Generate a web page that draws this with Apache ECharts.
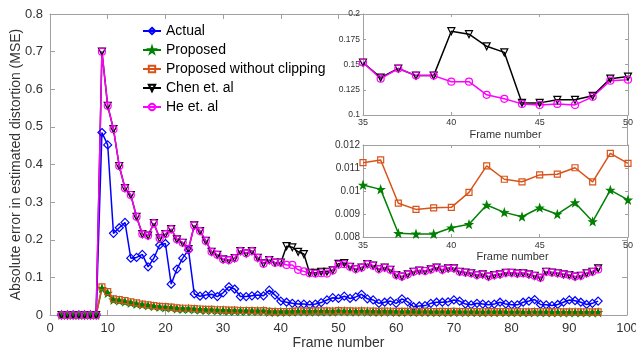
<!DOCTYPE html>
<html>
<head>
<meta charset="utf-8">
<script src="https://cdn.jsdelivr.net/npm/echarts@6/dist/echarts.min.js"></script>
<style>
    html, body { margin: 0; padding: 0; background: #fff; }
    #chart { width: 636px; height: 354px; }
</style>
</head>
<body>
<div id="chart"></div>
<script>
    // frame numbers of the main plot
    let frames = [2, 3, 4, 5, 6, 7, 8, 9, 10, 11, 12, 13, 14, 15, 16, 17, 18, 19, 20, 21,
        22, 23, 24, 25, 26, 27, 28, 29, 30, 31, 32, 33, 34, 35, 36, 37, 38, 39, 40, 41,
        42, 43, 44, 45, 46, 47, 48, 49, 50, 51, 52, 53, 54, 55, 56, 57, 58, 59, 60, 61,
        62, 63, 64, 65, 66, 67, 68, 69, 70, 71, 72, 73, 74, 75, 76, 77, 78, 79, 80, 81,
        82, 83, 84, 85, 86, 87, 88, 89, 90, 91, 92, 93, 94, 95];

    let actual = [0, 0, 0, 0, 0, 0, 0,
        0.485, 0.452, 0.217, 0.232, 0.246, 0.151, 0.153, 0.161, 0.128, 0.151, 0.186, 0.190, 0.082,
        0.122, 0.151, 0.173, 0.056, 0.050, 0.053, 0.055, 0.049, 0.059, 0.075, 0.069, 0.049, 0.049,
        0.051, 0.053, 0.051, 0.066, 0.053, 0.037, 0.034, 0.031, 0.029, 0.029, 0.027, 0.029, 0.033,
        0.040, 0.046, 0.044, 0.050, 0.044, 0.048, 0.055, 0.043, 0.040, 0.031, 0.034, 0.037, 0.031,
        0.043, 0.035, 0.022, 0.024, 0.025, 0.031, 0.034, 0.034, 0.035, 0.040, 0.037, 0.029, 0.027,
        0.031, 0.029, 0.027, 0.029, 0.034, 0.029, 0.027, 0.027, 0.034, 0.037, 0.041, 0.028, 0.027,
        0.025, 0.028, 0.034, 0.040, 0.038, 0.034, 0.028, 0.031, 0.037];

    let proposed = [0, 0, 0, 0, 0, 0, 0,
        0.071, 0.058, 0.040, 0.038, 0.035, 0.032, 0.029, 0.027, 0.025, 0.023, 0.021, 0.020, 0.019,
        0.017, 0.016, 0.016, 0.015, 0.014, 0.013, 0.013, 0.012, 0.012, 0.011, 0.011, 0.0105, 0.0104,
        0.0104, 0.0103, 0.0101, 0.0082, 0.0081, 0.0081, 0.0084, 0.0086, 0.0094, 0.0091, 0.0089, 0.0093,
        0.0090, 0.0095, 0.0087, 0.0100, 0.0096, 0.0092, 0.0089, 0.0094, 0.0090, 0.0086, 0.0083, 0.0088,
        0.0085, 0.0081, 0.0079, 0.0084, 0.0080, 0.0077, 0.0082, 0.0078, 0.0075, 0.0079, 0.0076, 0.0081,
        0.0077, 0.0074, 0.0078, 0.0075, 0.0072, 0.0076, 0.0073, 0.0077, 0.0074, 0.0071, 0.0075, 0.0072,
        0.0070, 0.0074, 0.0071, 0.0073, 0.0069, 0.0072, 0.0070, 0.0068, 0.0072, 0.0069, 0.0071, 0.0068,
        0.0070];

    let noClipping = [0, 0, 0, 0, 0, 0, 0,
        0.075, 0.062, 0.043, 0.041, 0.038, 0.035, 0.032, 0.029, 0.027, 0.025, 0.023, 0.022, 0.021,
        0.019, 0.018, 0.018, 0.017, 0.016, 0.015, 0.015, 0.014, 0.014, 0.013, 0.013, 0.012, 0.012,
        0.0118, 0.0112, 0.0114, 0.0095, 0.0092, 0.0093, 0.0093, 0.0099, 0.0111, 0.0105, 0.0104, 0.0107,
        0.0107, 0.0110, 0.0104, 0.0116, 0.0112, 0.0108, 0.0104, 0.0110, 0.0106, 0.0101, 0.0098, 0.0103,
        0.0100, 0.0096, 0.0094, 0.0099, 0.0095, 0.0092, 0.0097, 0.0093, 0.0090, 0.0094, 0.0091, 0.0096,
        0.0092, 0.0089, 0.0093, 0.0090, 0.0087, 0.0091, 0.0088, 0.0092, 0.0089, 0.0086, 0.0090, 0.0087,
        0.0085, 0.0089, 0.0086, 0.0088, 0.0084, 0.0087, 0.0085, 0.0083, 0.0087, 0.0084, 0.0086, 0.0083,
        0.0085];

    let chen = [0, 0, 0, 0, 0, 0, 0,
        0.700, 0.556, 0.494, 0.396, 0.337, 0.319, 0.261, 0.215, 0.211, 0.244, 0.204, 0.215, 0.228,
        0.201, 0.192, 0.175, 0.238, 0.223, 0.197, 0.168, 0.160, 0.148, 0.146, 0.151, 0.170, 0.164,
        0.170, 0.152, 0.137, 0.146, 0.139, 0.139, 0.183, 0.180, 0.168, 0.162, 0.112, 0.112, 0.115,
        0.115, 0.119, 0.136, 0.138, 0.128, 0.122, 0.126, 0.135, 0.131, 0.122, 0.126, 0.120, 0.106,
        0.102, 0.108, 0.115, 0.118, 0.117, 0.121, 0.126, 0.120, 0.124, 0.124, 0.115, 0.113, 0.111,
        0.106, 0.108, 0.102, 0.106, 0.108, 0.112, 0.112, 0.110, 0.111, 0.108, 0.104, 0.099, 0.115,
        0.113, 0.111, 0.108, 0.106, 0.102, 0.104, 0.111, 0.115, 0.124];

    let he = [0, 0, 0, 0, 0, 0, 0,
        0.700, 0.556, 0.494, 0.396, 0.337, 0.319, 0.261, 0.215, 0.211, 0.244, 0.204, 0.215, 0.228,
        0.201, 0.192, 0.175, 0.238, 0.223, 0.197, 0.168, 0.160, 0.148, 0.146, 0.151, 0.170, 0.164,
        0.170, 0.152, 0.136, 0.146, 0.139, 0.139, 0.133, 0.133, 0.120, 0.116, 0.111, 0.110, 0.111,
        0.110, 0.118, 0.134, 0.135, 0.128, 0.122, 0.126, 0.135, 0.131, 0.122, 0.126, 0.120, 0.106,
        0.102, 0.108, 0.115, 0.118, 0.117, 0.121, 0.126, 0.120, 0.124, 0.124, 0.115, 0.113, 0.111,
        0.106, 0.108, 0.102, 0.106, 0.108, 0.112, 0.112, 0.110, 0.111, 0.108, 0.104, 0.099, 0.115,
        0.113, 0.111, 0.108, 0.106, 0.102, 0.104, 0.111, 0.115, 0.121];

    // zoomed insets, frames 35-50
    let insetFrames = [35, 36, 37, 38, 39, 40, 41, 42, 43, 44, 45, 46, 47, 48, 49, 50];
    let insetChen = [0.152, 0.137, 0.146, 0.139, 0.139, 0.183, 0.180, 0.168, 0.162, 0.112, 0.112, 0.115, 0.115, 0.119, 0.136, 0.138];
    let insetHe = [0.152, 0.136, 0.146, 0.139, 0.139, 0.133, 0.133, 0.120, 0.116, 0.111, 0.110, 0.111, 0.110, 0.118, 0.134, 0.135];
    let insetNoClipping = [0.01123, 0.01135, 0.00947, 0.0092, 0.00927, 0.00929, 0.00994, 0.01109, 0.01051, 0.0104, 0.0107, 0.01073, 0.01101, 0.0104, 0.01164, 0.0112];
    let insetProposed = [0.01026, 0.01007, 0.00816, 0.00813, 0.00813, 0.0084, 0.00855, 0.00939, 0.00907, 0.00888, 0.00927, 0.00899, 0.00949, 0.00867, 0.01004, 0.00961];

    let mainTicks = { x: [0, 100, 10], y: [0, 0.8, 0.1] };
    let inset1Ticks = { x: [35, 50, 5], y: [0.1, 0.2, 0.025] };
    let inset2Ticks = { x: [35, 50, 5], y: [0.008, 0.012, 0.001] };

    let font = '"Liberation Sans", Arial, sans-serif';
    let axisGray = '#a0a0a0';
    let textColor = '#333';
    let star = 'path://M0,-10L2.35,-3.24L9.51,-3.09L3.8,1.24L5.88,8.09L0,4L-5.88,8.09L-3.8,1.24L-9.51,-3.09L-2.35,-3.24Z';

    let styles = {
        'Actual': { color: '#0000ff', symbol: 'diamond', size: 8, fill: false },
        'Proposed': { color: '#008000', symbol: star, size: 7, fill: true },
        'Proposed without clipping': { color: '#d95319', symbol: 'rect', size: 6, fill: false },
        'Chen et. al': { color: '#000000', symbol: 'triangle', size: 7, fill: false, rotate: 180 },
        'He et. al': { color: '#ff00ff', symbol: 'circle', size: 7, fill: false }
    };

    function pairs(xs, ys) {
        return xs.map(function (x, i) { return [x, ys[i]]; });
    }

    function makeSeries(name, xs, ys, axisIndex, z) {
        let s = styles[name];
        return {
            name: name,
            type: 'line',
            xAxisIndex: axisIndex,
            yAxisIndex: axisIndex,
            data: pairs(xs, ys),
            symbol: s.symbol,
            symbolSize: s.size,
            symbolRotate: s.rotate || 0,
            showAllSymbol: true,
            z: z,
            lineStyle: { color: s.color, width: 1.5 },
            itemStyle: {
                color: s.fill ? s.color : 'rgba(255,255,255,0)',
                borderColor: s.color,
                borderWidth: 1.2
            },
            emphasis: { disabled: true }
        };
    }

    function makeAxis(type, gridIndex, ticks, opts) {
        let axis = {
            type: 'value',
            gridIndex: gridIndex,
            min: ticks[0],
            max: ticks[1],
            interval: ticks[2],
            splitLine: { show: false },
            axisLine: { show: true, onZero: false, lineStyle: { color: axisGray, width: 1 } },
            axisTick: { show: true, inside: true, length: opts.tickLen || 5, lineStyle: { color: axisGray } },
            axisLabel: {
                show: !opts.mirror,
                color: textColor,
                fontFamily: font,
                fontSize: opts.fontSize,
                margin: opts.margin
            },
            z: opts.z || 0
        };
        if (type === 'x') {
            axis.position = opts.mirror ? 'top' : 'bottom';
        } else {
            axis.position = opts.mirror ? 'right' : 'left';
        }
        if (opts.name) {
            axis.name = opts.name;
            axis.nameLocation = 'middle';
            axis.nameGap = opts.nameGap;
            axis.nameMoveOverlap = false;
            axis.nameTextStyle = {
                color: textColor,
                fontFamily: font,
                fontSize: opts.nameSize,
                padding: opts.namePadding || 0
            };
        }
        return axis;
    }

    let chart = echarts.init(document.getElementById('chart'));
    let option = {
        animation: false,
        backgroundColor: '#fff',
        legend: {
            orient: 'vertical',
            left: 142,
            top: 24,
            padding: 0,
            itemGap: 5,
            itemWidth: 18,
            itemHeight: 8,
            textStyle: { color: '#000', fontFamily: font, fontSize: 14 },
            data: ['Actual', 'Proposed', 'Proposed without clipping', 'Chen et. al', 'He et. al']
        },
        grid: [
            { left: 50, top: 14, width: 577, height: 301, containLabel: false, outerBoundsMode: 'none' },
            { left: 363, top: 14, width: 265, height: 101, show: true, backgroundColor: '#fff', borderWidth: 0, z: 3, containLabel: false, outerBoundsMode: 'none' },
            { left: 363, top: 145, width: 265, height: 92, show: true, backgroundColor: '#fff', borderWidth: 0, z: 3, containLabel: false, outerBoundsMode: 'none' }
        ],
        xAxis: [
            makeAxis('x', 0, mainTicks.x, { fontSize: 13, margin: 7, name: 'Frame number', nameGap: 21, nameSize: 14 }),
            makeAxis('x', 0, mainTicks.x, { mirror: true }),
            makeAxis('x', 1, inset1Ticks.x, { fontSize: 9, margin: 3, tickLen: 3, z: 4, name: 'Frame number', nameGap: 14, nameSize: 11, namePadding: [0, 0, 0, 20] }),
            makeAxis('x', 1, inset1Ticks.x, { mirror: true, tickLen: 3, z: 4 }),
            makeAxis('x', 2, inset2Ticks.x, { fontSize: 9, margin: 4, tickLen: 3, z: 4, name: 'Frame number', nameGap: 14, nameSize: 11, namePadding: [0, 0, 0, 34] }),
            makeAxis('x', 2, inset2Ticks.x, { mirror: true, tickLen: 3, z: 4 })
        ],
        yAxis: [
            makeAxis('y', 0, mainTicks.y, { fontSize: 13, margin: 7, name: 'Absolute error in estimated distortion (MSE)', nameGap: 27, nameSize: 14 }),
            makeAxis('y', 0, mainTicks.y, { mirror: true }),
            makeAxis('y', 1, inset1Ticks.y, { fontSize: 8.5, margin: 3, tickLen: 3, z: 4 }),
            makeAxis('y', 1, inset1Ticks.y, { mirror: true, tickLen: 3, z: 4 }),
            makeAxis('y', 2, inset2Ticks.y, { fontSize: 10, margin: 3, tickLen: 3, z: 4 }),
            makeAxis('y', 2, inset2Ticks.y, { mirror: true, tickLen: 3, z: 4 })
        ],
        series: [
            makeSeries('Actual', frames, actual, 0, 2),
            makeSeries('Proposed', frames, proposed, 0, 2),
            makeSeries('Proposed without clipping', frames, noClipping, 0, 2),
            makeSeries('Chen et. al', frames, chen, 0, 2),
            makeSeries('He et. al', frames, he, 0, 2),
            makeSeries('Chen et. al', insetFrames, insetChen, 2, 5),
            makeSeries('He et. al', insetFrames, insetHe, 2, 5),
            makeSeries('Proposed', insetFrames, insetProposed, 4, 5),
            makeSeries('Proposed without clipping', insetFrames, insetNoClipping, 4, 5)
        ]
    };
    chart.setOption(option);
</script>
</body>
</html>
